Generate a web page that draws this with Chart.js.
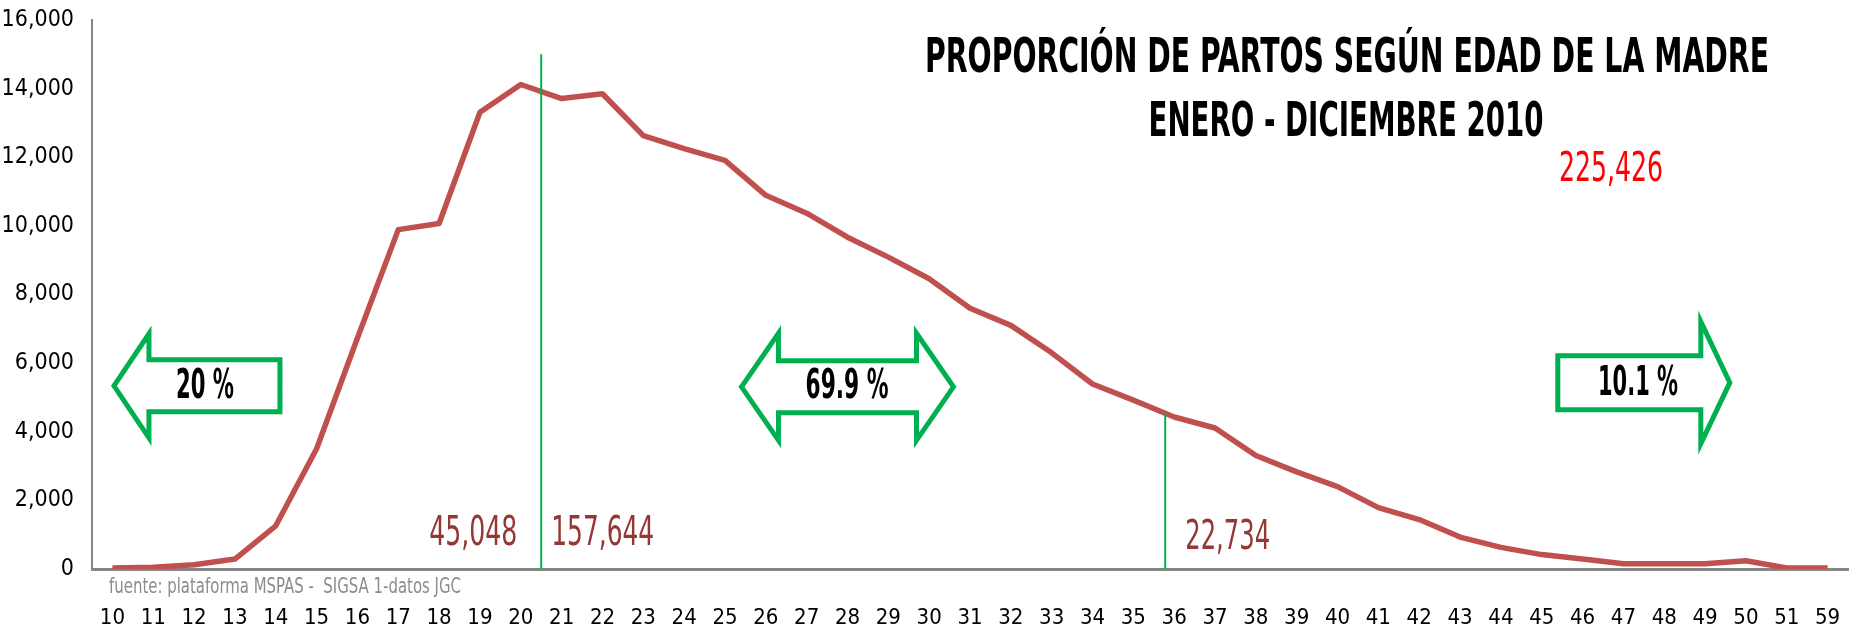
<!DOCTYPE html>
<html>
<head>
<meta charset="utf-8">
<script src="https://cdn.jsdelivr.net/npm/chart.js@4/dist/chart.umd.min.js"></script>
<style>
	html, body { margin: 0; padding: 0; background: #fff; }
	canvas { display: block; }
</style>
</head>
<body>
<canvas id="chart" width="1862" height="637"></canvas>
<script>
// ============= Data =============

const ages = [ "10", "11", "12", "13", "14", "15", "16", "17", "18", "19",
	"20", "21", "22", "23", "24", "25", "26", "27", "28", "29",
	"30", "31", "32", "33", "34", "35", "36", "37", "38", "39",
	"40", "41", "42", "43", "44", "45", "46", "47", "48", "49",
	"50", "51", "59" ];

const births = [ 30, 50, 125, 290, 1260, 3505, 6730, 9890, 10070, 13310,
	14120, 13710, 13850, 12630, 12250, 11910, 10890, 10370, 9670, 9090,
	8460, 7600, 7100, 6300, 5390, 4920, 4430, 4110, 3310, 2830,
	2400, 1790, 1440, 930, 630, 420, 290, 150, 150, 155,
	240, 30, 30 ];

// where the green dividers sit (age index) and how high they reach
const dividerIndex = [ 10.5, 25.78 ];
const dividerTop = [ 15000, 4550 ];

const groupTotals = [ "45,048", "157,644", "22,734" ];
const groupShares = [ "20 %", "69.9 %", "10.1 %" ];
const grandTotal = "225,426";

const titleLines = [ "PROPORCIÓN DE PARTOS SEGÚN EDAD DE LA MADRE", "ENERO - DICIEMBRE 2010" ];
const sourceNote = "fuente: plataforma MSPAS -  SIGSA 1-datos JGC";

const yTicks = [ 0, 2000, 4000, 6000, 8000, 10000, 12000, 14000, 16000 ];


// ============= Utility =============

const NARROW = "'Liberation Sans Narrow', 'DejaVu Sans Condensed', 'Open Sans', sans-serif";
const GREEN = "#00B050";
const MAROON = "#953735";

// Draw text squeezed (or stretched) to an exact width, like the condensed Calibri of the original
function fitText(ctx, text, x, y, width, font, color, align)
{
	ctx.save();
	ctx.font = font;
	ctx.fillStyle = color;
	ctx.textBaseline = "middle";
	ctx.textAlign = "left";

	const natural = ctx.measureText(text).width;
	const left = align === "right" ? x - width : align === "left" ? x : x - width / 2;

	ctx.translate(left, y);
	ctx.scale(width / natural, 1);
	ctx.fillText(text, 0, 0);
	ctx.restore();
}

// Block arrow outline; dir is "left", "right" or "both"
function blockArrow(ctx, cx, cy, w, headLen, headH, shaftH, dir)
{
	const l = cx - w / 2, r = cx + w / 2;
	const st = cy - shaftH / 2, sb = cy + shaftH / 2;
	const ht = cy - headH / 2, hb = cy + headH / 2;
	const pts = [];

	if (dir === "left" || dir === "both")
		pts.push([ l, cy ], [ l + headLen, ht ], [ l + headLen, st ]);
	else
		pts.push([ l, st ]);

	if (dir === "right" || dir === "both")
		pts.push([ r - headLen, st ], [ r - headLen, ht ], [ r, cy ], [ r - headLen, hb ], [ r - headLen, sb ]);
	else
		pts.push([ r, st ], [ r, sb ]);

	if (dir === "left" || dir === "both")
		pts.push([ l + headLen, sb ], [ l + headLen, hb ]);
	else
		pts.push([ l, sb ]);

	ctx.save();
	ctx.beginPath();
	pts.forEach(([ px, py ], i) => i ? ctx.lineTo(px, py) : ctx.moveTo(px, py));
	ctx.closePath();
	ctx.fillStyle = "#fff";
	ctx.fill();
	ctx.lineWidth = 5;
	ctx.lineJoin = "miter";
	ctx.strokeStyle = GREEN;
	ctx.stroke();
	ctx.restore();
}


// ============= Annotations =============

const annotations = {
	id: "annotations",
	afterDatasetsDraw(chart)
	{
		const { ctx, scales: { x, y } } = chart;

		// percentage arrows, anchored on the age / count scales
		blockArrow(ctx, x.getPixelForValue(2.07), y.getPixelForValue(5340), 166, 35, 104, 52, "left");
		blockArrow(ctx, x.getPixelForValue(18.0), y.getPixelForValue(5310), 212, 37, 107, 52, "both");
		blockArrow(ctx, x.getPixelForValue(37.5), y.getPixelForValue(5430), 172, 29, 122, 54, "right");

		const bold = "bold 40px " + NARROW;
		fitText(ctx, groupShares[0], 205, 388, 58, bold, "#000");
		fitText(ctx, groupShares[1], 847, 388, 83, bold, "#000");
		fitText(ctx, groupShares[2], 1638, 385, 80, bold, "#000");

		// group totals beside the dividers
		const plain = "40px " + NARROW;
		fitText(ctx, groupTotals[0], x.getPixelForValue(dividerIndex[0]) - 24, 535, 88, plain, MAROON, "right");
		fitText(ctx, groupTotals[1], x.getPixelForValue(dividerIndex[0]) + 10, 535, 103, plain, MAROON, "left");
		fitText(ctx, groupTotals[2], x.getPixelForValue(dividerIndex[1]) + 20, 539, 85, plain, MAROON, "left");

		// title, grand total, source
		const title = "bold 48px " + NARROW;
		fitText(ctx, titleLines[0], 1347, 60, 844, title, "#000");
		fitText(ctx, titleLines[1], 1346, 124, 395, title, "#000");
		fitText(ctx, grandTotal, 1611, 171, 104, "40px " + NARROW, "#FF0000");
		fitText(ctx, sourceNote, 109, 587, 352, "22px " + NARROW, "#8C8C8C", "left");
	}
};


// ============= Chart =============

const series = births.map((v, i) => ({ x: i, y: v }));
const dividers = dividerIndex.map((at, i) => ({
	data: [ { x: at, y: 0 }, { x: at, y: dividerTop[i] } ],
	borderColor: GREEN,
	borderWidth: 2,
	pointRadius: 0,
	order: 1
}));

new Chart(document.getElementById("chart"), {
	type: "line",
	data: {
		datasets: [
			...dividers,
			{
				data: series,
				borderColor: "#C0504D",
				borderWidth: 5.5,
				borderJoinStyle: "round",
				pointRadius: 0,
				tension: 0,
				order: 2
			}
		]
	},
	options: {
		responsive: false,
		devicePixelRatio: 1,
		animation: false,
		layout: { padding: { top: 20, right: 14, left: 0, bottom: 0 } },
		plugins: { legend: { display: false }, tooltip: { enabled: false } },
		scales: {
			x: {
				type: "linear",
				min: -0.5,
				max: ages.length - 0.5,
				afterFit: s => { s.height = 68; s.paddingLeft = 0; s.paddingRight = 0; },
				afterBuildTicks: s => { s.ticks = ages.map((_, i) => ({ value: i })); },
				grid: { display: false, drawTicks: false },
				border: { color: "#868686", width: 3 },
				ticks: {
					autoSkip: false,
					maxRotation: 0,
					padding: 36,
					color: "#000",
					font: { family: NARROW, size: 22 },
					callback: v => ages[v]
				}
			},
			y: {
				min: 0,
				max: 16000,
				afterFit: s => { s.width = 92; s.paddingTop = 0; s.paddingBottom = 0; },
				afterBuildTicks: s => { s.ticks = yTicks.map(v => ({ value: v })); },
				grid: { display: false, drawTicks: false },
				border: { color: "#868686", width: 2 },
				ticks: {
					padding: 18,
					color: "#000",
					font: { family: NARROW, size: 23 },
					callback: v => v.toLocaleString("en-US")
				}
			}
		}
	},
	plugins: [ annotations ]
});
</script>
</body>
</html>
